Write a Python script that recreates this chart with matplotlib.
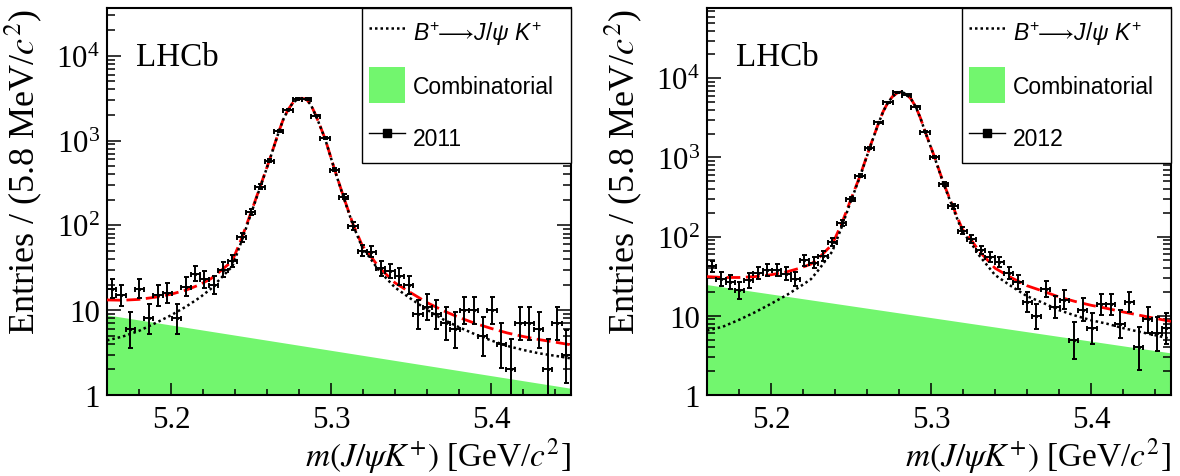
import numpy as np
import matplotlib
matplotlib.use('Agg')
import matplotlib.pyplot as plt
from matplotlib.lines import Line2D
from matplotlib.patches import Patch
from matplotlib.font_manager import FontProperties
from matplotlib.ticker import FixedLocator, FixedFormatter, LogLocator, NullFormatter, MultipleLocator

plt.rcParams['font.family'] = ['Liberation Serif', 'DejaVu Serif']
plt.rcParams['mathtext.fontset'] = 'custom'
plt.rcParams['mathtext.rm'] = 'Liberation Sans'
plt.rcParams['mathtext.it'] = 'Liberation Sans:italic'
plt.rcParams['mathtext.bf'] = 'Liberation Sans:bold'
plt.rcParams['mathtext.fallback'] = 'stixsans'

# ---------------- data ----------------
mass_lo, mass_hi = 5.16, 5.45
n_bins = 50

counts_2011 = [18, 15, 6, 18, 8, 15, 16, 8, 19, 27,
               23, 20, 30, 38, 72, 143, 286, 579, 1290, 2316,
               3080, 3100, 1967, 1064, 454, 218, 99, 50, 49, 31,
               29, 25, 20, 9, 11, 9, 7, 6, 10, 10,
               5, 10, 4, 2, 7, 7, 6, 2, 7, 3]
counts_2012 = [42, 29, 27, 21, 28, 35, 38, 38, 34, 29,
               50, 47, 57, 85, 149, 299, 589, 1318, 2782, 4977,
               6660, 6210, 4385, 2118, 1023, 462, 242, 119, 93, 68,
               55, 48, 35, 27, 15, 10, 22, 13, 16, 5,
               12, 7, 14, 14, 8, 15, 4, 9, 6, 7]

fit_mass = [5.160, 5.170, 5.180, 5.190, 5.200, 5.210, 5.218, 5.225, 5.230,
            5.2383, 5.2441, 5.2499, 5.2557, 5.2615, 5.2673, 5.2702, 5.2731, 5.2760,
            5.2789, 5.2818, 5.2847, 5.2876, 5.2905, 5.2934, 5.2963, 5.2992, 5.3021,
            5.3079, 5.3137, 5.3195, 5.3253,
            5.330, 5.340, 5.350, 5.360, 5.370, 5.380, 5.390, 5.400, 5.410, 5.420,
            5.430, 5.440, 5.450]
total_2011 = [13.2, 13.1, 13.4, 14.2, 15.4, 17.4, 20.0, 23.5, 28.0,
              38, 70, 140, 285, 585, 1260, 1780, 2300, 2760,
              3060, 3150, 3060, 2600, 1980, 1450, 1050, 700, 465,
              215, 104, 58, 42,
              32, 21, 16, 12.3, 9.9, 8.2, 7.0, 6.1, 5.4, 4.9, 4.5, 4.2, 3.9]
signal_2011 = [4.4, 4.9, 5.7, 7.0, 8.7, 11.2, 14.1, 17.9, 22.6,
               32.8, 65, 135, 280, 580, 1255, 1775, 2295, 2755,
               3055, 3145, 3055, 2595, 1976, 1446, 1046, 696, 461,
               212, 101, 55, 39,
               29.3, 18.5, 13.6, 10.1, 7.8, 6.3, 5.2, 4.4, 3.8, 3.4, 3.1, 2.9, 2.7]
total_2012 = [31.3, 30.5, 30.5, 31.3, 33.0, 36.0, 40.0, 45.0, 54,
              80, 145, 295, 590, 1300, 2750, 3850, 4950, 5900,
              6550, 6750, 6300, 5450, 4350, 3150, 2130, 1480, 1030,
              470, 240, 125, 90,
              66, 40, 30.5, 24.0, 20.5, 17.3, 15.2, 13.6, 12.4, 11.2, 10.2, 9.3, 8.5]
signal_2012 = [6.5, 7.3, 8.9, 11.1, 14.2, 18.4, 23.3, 29.1, 38.6,
               65, 131, 281, 577, 1287, 2738, 3838, 4938, 5888,
               6538, 6738, 6289, 5439, 4339, 3140, 2120, 1470, 1020,
               461, 231, 116.5, 81.8,
               58.3, 32.8, 23.8, 17.7, 14.6, 11.8, 10.1, 8.8, 7.95, 7.0, 6.3, 5.7, 5.1]

comb_mass = [5.16, 5.45]
comb_2011 = [8.8, 1.2]
comb_2012 = [24.8, 3.4]

y_max_2011 = 36500
y_max_2012 = 77300

x_ticks = [5.2, 5.3, 5.4]
x_tick_labels = ['5.2', '5.3', '5.4']
y_ticks = [1, 10, 100, 1000, 10000]
y_tick_labels = ['1', '10', r'$\mathdefault{10^{2}}$', r'$\mathdefault{10^{3}}$', r'$\mathdefault{10^{4}}$']

year_labels = ['2011', '2012']
sig_label = r'$B^{+}\!\!\longrightarrow\! J/\psi\ K^{+}$'
comb_label = 'Combinatorial'
xlabel = r'$m(J/\psi K^{+})$ [GeV/$c^{2}$]'
ylabel = r'Entries / (5.8 MeV/$c^{2}$)'

GREEN = '#72f66e'

# ---------------- figure ----------------
W, H = 1180, 477
fig = plt.figure(figsize=(W / 100, H / 100), dpi=100)

edges = np.linspace(mass_lo, mass_hi, n_bins + 1)
centers = 0.5 * (edges[1:] + edges[:-1])
half_w = 0.5 * (edges[1] - edges[0])


def poisson_interval(n):
    n = np.asarray(n, float)
    lo = n * (1 - 1 / (9 * n) - 1 / (3 * np.sqrt(n))) ** 3
    hi = (n + 1) * (1 - 1 / (9 * (n + 1)) + 1 / (3 * np.sqrt(n + 1))) ** 3
    return lo, hi


panels = [
    (107, counts_2011, total_2011, signal_2011, comb_2011, y_max_2011, year_labels[0]),
    (707, counts_2012, total_2012, signal_2012, comb_2012, y_max_2012, year_labels[1]),
]

for left_px, counts, total, signal, comb, ymax, year in panels:
    ax = fig.add_axes([left_px / W, 81 / H, 464 / W, 387 / H])
    ax.set_yscale('log')
    ax.set_xlim(mass_lo, mass_hi)
    ax.set_ylim(1, ymax)

    ax.fill_between(comb_mass, 1e-3, comb, color=GREEN, lw=0, zorder=1)
    ax.plot(fit_mass, total, color='red', lw=2.0, ls=(0, (5, 2)), zorder=3)
    ax.plot(fit_mass, signal, color='black', lw=1.8, ls=(0, (1, 1.2)), zorder=4)

    n = np.asarray(counts, float)
    lo, hi = poisson_interval(n)
    ax.errorbar(centers, n, yerr=[n - lo, hi - n], xerr=half_w, fmt='s', ms=1.2,
                color='black', ecolor='black', elinewidth=1.4, capsize=1.8,
                capthick=1.4, zorder=5)

    ax.xaxis.set_major_locator(FixedLocator(x_ticks))
    ax.xaxis.set_major_formatter(FixedFormatter(x_tick_labels))
    ax.xaxis.set_minor_locator(MultipleLocator(0.02))
    ax.yaxis.set_major_locator(FixedLocator(y_ticks))
    ax.yaxis.set_major_formatter(FixedFormatter(y_tick_labels))
    ax.yaxis.set_minor_locator(LogLocator(base=10, subs=np.arange(2, 10)))
    ax.yaxis.set_minor_formatter(NullFormatter())

    ax.tick_params(axis='x', which='major', direction='in', length=8.6, width=1.1,
                   labelsize=22.3, pad=7, top=False)
    ax.tick_params(axis='x', which='minor', direction='in', length=4.3, width=1.1, top=False)
    ax.tick_params(axis='y', which='major', direction='in', length=10, width=1.1,
                   labelsize=22.3, pad=5, right=True)
    ax.tick_params(axis='y', which='minor', direction='in', length=5.8, width=1.1, right=True)
    for sp in ax.spines.values():
        sp.set_linewidth(1.5)

    ax.set_xlabel(xlabel, fontsize=24, math_fontfamily='stix')
    ax.xaxis.set_label_coords(1.0, -0.181)
    ax.xaxis.label.set_ha('right')
    ax.xaxis.label.set_va('baseline')

    ax.set_ylabel(ylabel, fontsize=26, math_fontfamily='stix')
    ax.yaxis.set_label_coords(-0.135, 1.0)
    ax.yaxis.label.set_ha('right')
    ax.yaxis.label.set_va('bottom')

    ax.text(0.0625, 0.853, 'LHCb', transform=ax.transAxes, fontsize=23.8,
            va='baseline', ha='left', zorder=6)

    handles = [
        Line2D([], [], color='black', lw=1.8, ls=(0, (1, 1.2))),
        Patch(facecolor=GREEN, edgecolor='none'),
        Line2D([], [], color='black', lw=1.0, marker='s', ms=5.8),
    ]
    labels = [sig_label, comb_label, year]
    prop = FontProperties(family=['Liberation Sans', 'DejaVu Sans'], size=16.5,
                          math_fontfamily='custom')
    leg = ax.legend(handles, labels, loc='upper left', bbox_to_anchor=(0.549, 0.0, 0.451, 1.0),
                    mode='expand', borderaxespad=0, prop=prop, frameon=True, fancybox=False,
                    framealpha=1, edgecolor='black', handlelength=1.6, handleheight=2.04,
                    handletextpad=0.35, labelspacing=0.72, borderpad=0.3)
    leg.get_frame().set_linewidth(1.0)
    leg.set_zorder(10)

fig.savefig('out.png', dpi=100, facecolor='white')
